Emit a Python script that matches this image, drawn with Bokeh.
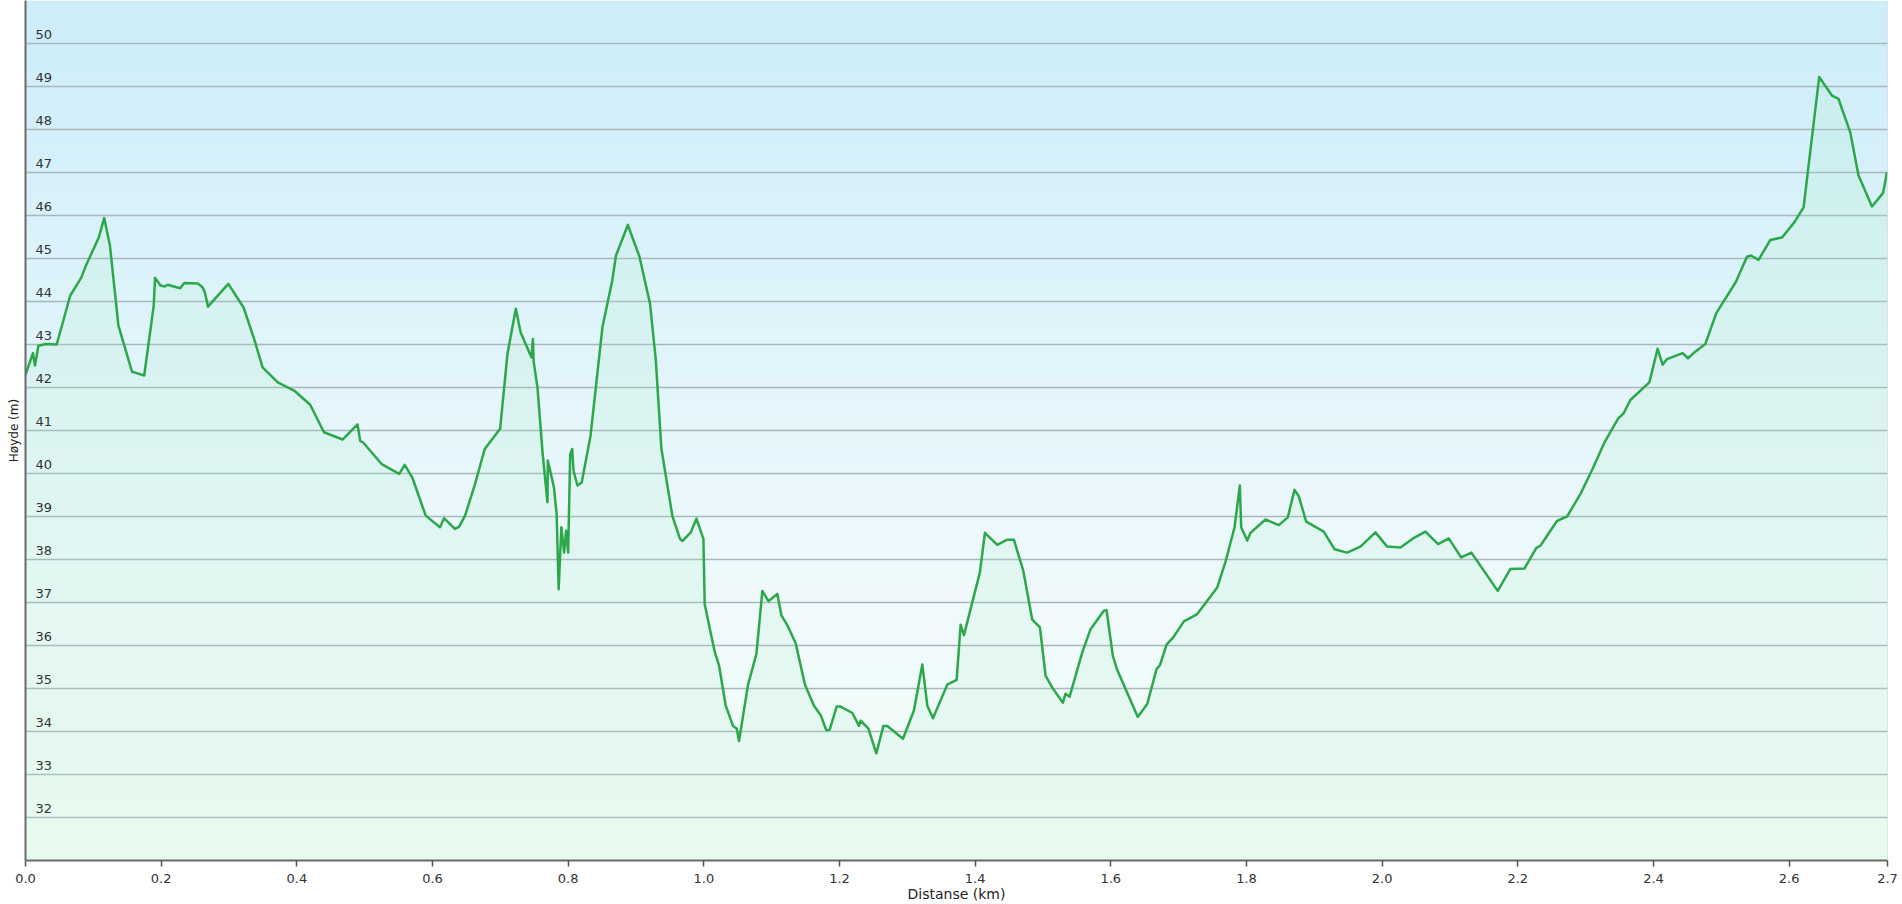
import numpy as np
from bokeh.plotting import figure
from bokeh.models import ColumnDataSource, FixedTicker, LabelSet, Span, Range1d
from bokeh.core.properties import value
from bokeh.embed import file_html
from bokeh.resources import INLINE

# ---- data ----
dist_km = [
    0.000, 0.011, 0.014, 0.019, 0.030, 0.046, 0.066, 0.082, 0.089, 0.108, 0.116, 0.1245,
    0.137, 0.157, 0.175, 0.189, 0.191, 0.199, 0.2055, 0.2095, 0.228, 0.234, 0.254, 0.261,
    0.2645, 0.269, 0.299, 0.3215, 0.337, 0.3495, 0.372, 0.396, 0.4197, 0.440,
    0.4674, 0.4895, 0.4934, 0.4978, 0.525, 0.551, 0.559, 0.5706, 0.590, 0.611, 0.617, 0.633,
    0.639, 0.648, 0.662, 0.677, 0.6997, 0.7105, 0.7228, 0.730, 0.746, 0.748, 0.749, 0.7548,
    0.762, 0.7695, 0.770, 0.779, 0.783, 0.786, 0.790, 0.794, 0.797, 0.800, 0.803, 0.806,
    0.8078, 0.8137, 0.820, 0.833, 0.8505, 0.865, 0.8705, 0.888, 0.905,
    0.9207, 0.9291, 0.9375, 0.9537, 0.9649, 0.9684, 0.9807, 0.9891, 0.9994, 1.0013, 1.0161,
    1.0224, 1.0323, 1.0430, 1.0485, 1.0519, 1.0652, 1.0775, 1.0863, 1.0952, 1.1084, 1.1144,
    1.1232, 1.1354, 1.1491, 1.1624, 1.1723, 1.1806, 1.1855, 1.1958, 1.2017, 1.2190, 1.2287,
    1.2312, 1.2425, 1.2543, 1.2647, 1.2705, 1.2936, 1.3097, 1.3221, 1.3295, 1.3378, 1.3589,
    1.3727, 1.3786, 1.3835, 1.407, 1.4144, 1.4326, 1.4474, 1.4571, 1.4709, 1.4842, 1.4955,
    1.5038, 1.5137, 1.5293, 1.5333, 1.5392, 1.5579, 1.5701, 1.5897, 1.5937, 1.6030, 1.6095,
    1.6398, 1.6537, 1.6674, 1.6723, 1.6822, 1.692, 1.7077, 1.7274, 1.7569, 1.7691, 1.7824,
    1.7902, 1.7922, 1.8011, 1.8059, 1.828, 1.8476, 1.8609, 1.8708, 1.8771, 1.8880, 1.9139,
    1.9297, 1.9484, 1.968, 1.9901, 2.0073, 2.0270, 2.0476, 2.0638, 2.0825, 2.0982, 2.1164,
    2.1316, 2.1704, 2.1891, 2.2097, 2.2274, 2.2333, 2.2579, 2.2726, 2.2922, 2.310, 2.327,
    2.348, 2.356, 2.3659, 2.3939, 2.4061, 2.4135, 2.4199, 2.4430, 2.4509, 2.4591, 2.4764,
    2.4926, 2.5216, 2.5378, 2.5437, 2.5550, 2.5722, 2.5895, 2.6076, 2.6213, 2.6272, 2.6443,
    2.6631, 2.6728, 2.6900, 2.7023, 2.7221, 2.7383, 2.7406, 2.7441,
]
elev_m = [
    42.30, 42.80, 42.51, 42.97, 43.01, 43.00, 44.14, 44.55, 44.83, 45.49, 45.94, 45.30,
    43.44, 42.37, 42.28, 43.90, 44.55, 44.37, 44.35, 44.39, 44.31, 44.43, 44.42, 44.33,
    44.21, 43.88, 44.41, 43.86, 43.13, 42.47, 42.12, 41.93, 41.60, 40.96,
    40.79, 41.14, 40.76, 40.72, 40.22, 39.99, 40.20, 39.89, 39.02, 38.75, 38.96, 38.71,
    38.76, 39.02, 39.72, 40.57, 41.04, 42.78, 43.83, 43.28, 42.70, 43.13, 42.62, 42.00,
    40.53, 39.33, 40.30, 39.68, 39.06, 37.31, 38.75, 38.16, 38.67, 38.16, 40.45, 40.57,
    40.07, 39.72, 39.79, 40.88, 43.40, 44.49, 45.07, 45.78, 45.05,
    43.95, 42.66, 40.57, 39.01, 38.48, 38.43, 38.63, 38.95, 38.48, 36.96, 35.85,
    35.54, 34.60, 34.13, 34.07, 33.78, 35.09, 35.80, 37.27, 37.03, 37.20, 36.70,
    36.47, 36.05, 35.09, 34.60, 34.38, 34.03, 34.04, 34.58, 34.58, 34.43, 34.13,
    34.25, 34.07, 33.49, 34.13, 34.13, 33.83, 34.49, 35.56, 34.60, 34.31, 35.09,
    35.20, 36.48, 36.24, 37.70, 38.62, 38.34, 38.46, 38.46, 37.74, 36.60, 36.42,
    35.30, 35.02, 34.67, 34.88, 34.81, 35.84, 36.38, 36.81, 36.82, 35.76, 35.43,
    34.34, 34.64, 35.45, 35.54, 36.02, 36.19, 36.56, 36.73, 37.35, 37.95, 38.75,
    39.72, 38.75, 38.44, 38.62, 38.93, 38.80, 38.98, 39.62, 39.47, 38.88, 38.65,
    38.24, 38.16, 38.30, 38.63, 38.30, 38.28, 38.51, 38.65, 38.36, 38.49, 38.05,
    38.16, 37.27, 37.78, 37.79, 38.27, 38.32, 38.90, 39.00, 39.52, 40.10, 40.70,
    41.28, 41.40, 41.71, 42.12, 42.90, 42.53, 42.66, 42.80, 42.68, 42.80, 43.01,
    43.73, 44.46, 45.04, 45.07, 44.97, 45.43, 45.49, 45.84, 46.19, 46.97, 49.22,
    48.79, 48.71, 47.94, 46.93, 46.21, 46.52, 46.70, 47.01,
]
x_ticks = [0.0, 0.2, 0.4, 0.6, 0.8, 1.0, 1.2, 1.4, 1.6, 1.8, 2.0, 2.2, 2.4, 2.6, 2.745]
x_tick_labels = ["0.0", "0.2", "0.4", "0.6", "0.8", "1.0", "1.2", "1.4", "1.6", "1.8",
                 "2.0", "2.2", "2.4", "2.6", "2.7"]
y_ticks = [32, 33, 34, 35, 36, 37, 38, 39, 40, 41, 42, 43, 44, 45, 46, 47, 48, 49, 50]
y_tick_labels = ["32", "33", "34", "35", "36", "37", "38", "39", "40", "41", "42", "43",
                 "44", "45", "46", "47", "48", "49", "50"]
x_title = "Distanse (km)"
y_title = "Høyde (m)"

# ---- layout ----
X0, X1 = 0.0, 2.745
Y0, Y1 = 31.0, 51.0
FONT = "DejaVu Sans"

p = figure(width=1902, height=904, x_range=Range1d(X0, X1), y_range=Range1d(Y0, Y1),
           output_backend="svg", toolbar_location=None,
           min_border_left=25, min_border_right=15, min_border_top=0, min_border_bottom=44)
p.background_fill_color = "#ffffff"
p.border_fill_color = "#ffffff"
p.outline_line_color = None

# vertical gradient background (blue at top -> near white -> mint at bottom)
n = 320
t = np.linspace(0.0, 1.0, n)
stops = [0.0, 0.30, 1.0]
cols = [(243, 254, 247), (240, 250, 253), (205, 237, 249)]
img = np.empty((n, 1), dtype=np.uint32)
view = img.view(dtype=np.uint8).reshape((n, 1, 4))
for k in range(3):
    view[:, 0, k] = np.interp(t, stops, [c[k] for c in cols]).astype(np.uint8)
view[:, 0, 3] = 255
p.image_rgba(image=[img], x=X0, y=Y0, dw=X1 - X0, dh=Y1 - Y0, level="image")

# grid
p.xgrid.visible = False
p.ygrid.ticker = FixedTicker(ticks=y_ticks)
p.ygrid.grid_line_color = "#a9b6bb"
p.ygrid.grid_line_width = 1.3

# area + line
p.varea(x=dist_km, y1=Y0, y2=elev_m, fill_color="#a8ecc0", fill_alpha=0.16)
p.line(dist_km, elev_m, line_color="#2ca84b", line_width=2.5, line_join="round")

p.add_layout(Span(location=X1, dimension="height", line_color="#c3cbce", line_width=1))

# x axis
ax = p.xaxis[0]
ax.ticker = FixedTicker(ticks=x_ticks)
ax.major_label_overrides = {t_: lab for t_, lab in zip(x_ticks, x_tick_labels)}
ax.major_label_text_font = FONT
ax.major_label_text_font_size = "13px"
ax.major_label_text_color = "#333333"
ax.major_label_standoff = 7
ax.axis_line_color = "#6a6a6a"
ax.axis_line_width = 2
ax.major_tick_line_color = "#555555"
ax.major_tick_line_width = 1.5
ax.major_tick_out = 6
ax.major_tick_in = 0
ax.minor_tick_line_color = None
ax.axis_label = x_title
ax.axis_label_text_font = FONT
ax.axis_label_text_font_size = "14px"
ax.axis_label_text_font_style = "normal"
ax.axis_label_text_color = "#222222"
ax.axis_label_standoff = 0

# y axis (labels drawn inside the plot, as in the reference)
ay = p.yaxis[0]
ay.ticker = FixedTicker(ticks=[])
ay.major_tick_out = 0
ay.major_tick_in = 0
ay.major_label_standoff = 0
ay.minor_tick_line_color = None
ay.axis_line_color = "#6a6a6a"
ay.axis_line_width = 2
ay.axis_label = y_title
ay.axis_label_text_font = FONT
ay.axis_label_text_font_size = "12px"
ay.axis_label_text_font_style = "normal"
ay.axis_label_text_color = "#222222"
ay.axis_label_standoff = 5

ysrc = ColumnDataSource(dict(x=[X0] * len(y_ticks), y=y_ticks, text=y_tick_labels))
p.add_layout(LabelSet(x="x", y="y", text="text", source=ysrc, x_offset=10, y_offset=5,
                      text_baseline="alphabetic", text_align="left",
                      text_font=value(FONT), text_font_size="13px", text_color="#333333"))

open("out.html", "w").write(file_html(p, INLINE))
